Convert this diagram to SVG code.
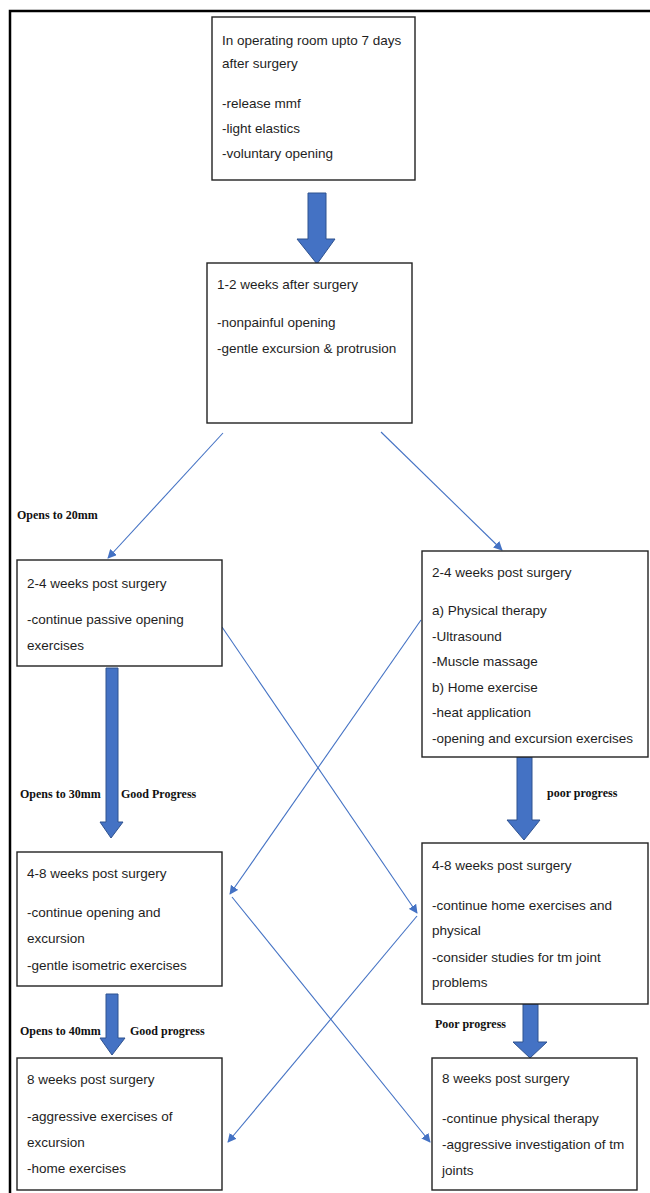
<svg xmlns="http://www.w3.org/2000/svg" width="650" height="1193" viewBox="0 0 650 1193">
<style>
.box{fill:#fff;stroke:#222;stroke-width:1.4}
.t{font-family:"Liberation Sans",Arial,sans-serif;font-size:13.5px;fill:#1e1e1e}
.lb{font-family:"Liberation Serif","Times New Roman",serif;font-size:12px;font-weight:bold;fill:#111}
.big{fill:#4472C4;stroke:#2F528F;stroke-width:1}
.con{stroke:#4472C4;stroke-width:1.1;fill:none;marker-end:url(#ah)}
</style>
<defs>
<marker id="ah" viewBox="0 0 10 10" refX="9" refY="5" markerWidth="9" markerHeight="9" markerUnits="userSpaceOnUse" orient="auto">
<path d="M0,0 L10,5 L0,10 z" fill="#4472C4"/>
</marker>
</defs>
<rect width="650" height="1193" fill="#fff"/>
<path d="M650,11 H10 V1193" fill="none" stroke="#000" stroke-width="2.5"/>

<g id="connectors">
<path class="big" d="M308,193 H326 V239 H335 L317,264 L297,239 H308 Z"/>
<path class="big" d="M106,668 H118 V822 H123 L111,838 L100,822 H106 Z"/>
<path class="big" d="M517,757 H532 V820 H540 L524,840 L507,820 H517 Z"/>
<path class="big" d="M106,994 H118 V1038 H125 L112,1055 L100,1038 H106 Z"/>
<path class="big" d="M523,1004 H538 V1042 H547 L530,1058 L513,1042 H523 Z"/>
<line class="con" x1="223" y1="433" x2="108" y2="558"/>
<line class="con" x1="381" y1="432" x2="502" y2="550"/>
<line class="con" x1="222" y1="627" x2="417" y2="913"/>
<line class="con" x1="421" y1="620" x2="230" y2="894"/>
<line class="con" x1="232" y1="897" x2="430" y2="1142"/>
<line class="con" x1="417" y1="916" x2="228" y2="1142"/>
<text class="lb" x="17" y="519">Opens to 20mm</text>
<text class="lb" x="20" y="798">Opens to 30mm</text>
<text class="lb" x="121" y="798">Good Progress</text>
<text class="lb" x="547" y="797">poor progress</text>
<text class="lb" x="20" y="1035">Opens to 40mm</text>
<text class="lb" x="130" y="1035">Good progress</text>
<text class="lb" x="435" y="1028">Poor progress</text>
</g>

<g id="n1">
<rect class="box" x="212" y="17" width="203" height="163"/>
<text class="t" x="222" y="45">In operating room upto 7 days</text>
<text class="t" x="222" y="68">after surgery</text>
<text class="t" x="222" y="108">-release mmf</text>
<text class="t" x="222" y="133">-light elastics</text>
<text class="t" x="222" y="158">-voluntary opening</text>
</g>

<g id="n2">
<rect class="box" x="207" y="263" width="205" height="160"/>
<text class="t" x="217" y="289">1-2 weeks after surgery</text>
<text class="t" x="217" y="327">-nonpainful opening</text>
<text class="t" x="217" y="353">-gentle excursion &amp; protrusion</text>
</g>

<g id="n3">
<rect class="box" x="17" y="560" width="205" height="106"/>
<text class="t" x="27" y="588">2-4 weeks post surgery</text>
<text class="t" x="27" y="624">-continue passive opening</text>
<text class="t" x="27" y="650">exercises</text>
</g>

<g id="n4">
<rect class="box" x="422" y="551" width="226" height="206"/>
<text class="t" x="432" y="577">2-4 weeks post surgery</text>
<text class="t" x="432" y="615">a) Physical therapy</text>
<text class="t" x="432" y="641">-Ultrasound</text>
<text class="t" x="432" y="666">-Muscle massage</text>
<text class="t" x="432" y="692">b) Home exercise</text>
<text class="t" x="432" y="717">-heat application</text>
<text class="t" x="432" y="743">-opening and excursion exercises</text>
</g>

<g id="n5">
<rect class="box" x="17" y="852" width="205" height="134"/>
<text class="t" x="27" y="878">4-8 weeks post surgery</text>
<text class="t" x="27" y="917">-continue opening and</text>
<text class="t" x="27" y="943">excursion</text>
<text class="t" x="27" y="970">-gentle isometric exercises</text>
</g>

<g id="n6">
<rect class="box" x="422" y="843" width="226" height="161"/>
<text class="t" x="432" y="870">4-8 weeks post surgery</text>
<text class="t" x="432" y="910">-continue home exercises and</text>
<text class="t" x="432" y="935">physical</text>
<text class="t" x="432" y="962">-consider studies for tm joint</text>
<text class="t" x="432" y="987">problems</text>
</g>

<g id="n7">
<rect class="box" x="17" y="1058" width="205" height="132"/>
<text class="t" x="27" y="1084">8 weeks post surgery</text>
<text class="t" x="27" y="1121">-aggressive exercises of</text>
<text class="t" x="27" y="1147">excursion</text>
<text class="t" x="27" y="1173">-home exercises</text>
</g>

<g id="n8">
<rect class="box" x="432" y="1058" width="205" height="132"/>
<text class="t" x="442" y="1083">8 weeks post surgery</text>
<text class="t" x="442" y="1123">-continue physical therapy</text>
<text class="t" x="442" y="1149">-aggressive investigation of tm</text>
<text class="t" x="442" y="1175">joints</text>
</g>
</svg>
